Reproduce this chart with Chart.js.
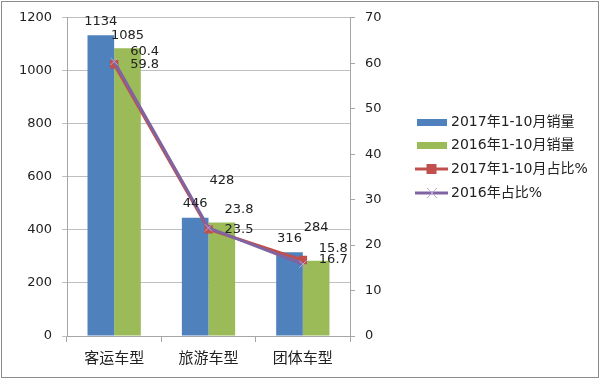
<!DOCTYPE html>
<html><head><meta charset="utf-8">
<script src="https://cdn.jsdelivr.net/npm/chart.js@4"></script>
<style>html,body{margin:0;padding:0;background:#fff}#wrap{width:600px;height:381px}</style>
</head><body><div id="wrap"><canvas id="c" width="600" height="381"></canvas></div>
<script>
const categories = ["客运车型", "旅游车型", "团体车型"];
const sales2017 = [1134, 446, 316];
const sales2016 = [1085, 428, 284];
const share2017 = [59.8, 23.5, 16.7];
const share2016 = [60.4, 23.8, 15.8];
const seriesNames = ["2017年1-10月销量", "2016年1-10月销量", "2017年1-10月占比%", "2016年占比%"];
const leftTicks = [0, 200, 400, 600, 800, 1000, 1200];
const rightTicks = [0, 10, 20, 30, 40, 50, 60, 70];

const FONT = "'DejaVu Sans', 'Noto Sans CJK SC', sans-serif";
const colors = ["#4F81BD", "#9BBB59", "#C0504D", "#8064A2"];

// label offsets (pixel nudges from each mark)
const barLabelDy = [[-14, -13], [-14, -42], [-13.5, -33]];
const lineLabelDy = { 2: [0, 0, 0], 3: [-10, -18, -16] };

const decor = {
  id: 'decor',
  afterDatasetsDraw(chart) {
    const ctx = chart.ctx;
    ctx.save();
    ctx.fillStyle = '#222';
    ctx.font = '13px ' + FONT;
    [0, 1].forEach(di => {
      const meta = chart.getDatasetMeta(di);
      meta.data.forEach((el, i) => {
        ctx.textAlign = 'center';
        ctx.textBaseline = 'middle';
        const v = chart.data.datasets[di].data[i];
        ctx.fillText(String(v), el.x, el.y + barLabelDy[i][di]);
      });
    });
    [2, 3].forEach(di => {
      const meta = chart.getDatasetMeta(di);
      meta.data.forEach((el, i) => {
        ctx.textAlign = 'left';
        ctx.textBaseline = 'middle';
        const v = chart.data.datasets[di].data[i];
        ctx.fillText(v.toFixed(1), el.x + 16, el.y + lineLabelDy[di][i]);
      });
    });
    ctx.restore();
  },
  afterDraw(chart) {
    const ctx = chart.ctx;
    ctx.save();
    const lx = 415, tx = 451;
    const rows = [122, 145, 169, 193];
    ctx.font = '14px ' + FONT;
    ctx.textBaseline = 'middle';
    ctx.textAlign = 'left';
    rows.forEach((y, i) => {
      if (i < 2) {
        ctx.fillStyle = colors[i];
        ctx.fillRect(lx + 2, y - 3, 30, 7);
      } else {
        ctx.strokeStyle = colors[i];
        ctx.lineWidth = 3;
        ctx.beginPath(); ctx.moveTo(lx, y); ctx.lineTo(lx + 33, y); ctx.stroke();
        if (i === 2) {
          ctx.fillStyle = colors[2];
          ctx.fillRect(lx + 11.5, y - 5, 10, 10);
        } else {
          ctx.lineWidth = 1;
          ctx.strokeStyle = '#b9a8d6';
          ctx.beginPath();
          ctx.moveTo(lx + 12, y - 5); ctx.lineTo(lx + 22, y + 5);
          ctx.moveTo(lx + 22, y - 5); ctx.lineTo(lx + 12, y + 5);
          ctx.stroke();
        }
      }
      ctx.fillStyle = '#222';
      ctx.fillText(seriesNames[i], tx, y);
    });
    ctx.strokeStyle = '#8c8c8c';
    ctx.lineWidth = 1;
    ctx.strokeRect(1.5, 1.5, 597, 376);
    ctx.restore();
  }
};

new Chart(document.getElementById('c'), {
  type: 'bar',
  data: {
    labels: categories,
    datasets: [
      { label: seriesNames[0], data: sales2017, backgroundColor: colors[0], yAxisID: 'y', order: 3, barPercentage: 1, categoryPercentage: 0.565 },
      { label: seriesNames[1], data: sales2016, backgroundColor: colors[1], yAxisID: 'y', order: 4, barPercentage: 1, categoryPercentage: 0.565 },
      { type: 'line', label: seriesNames[2], data: share2017, borderColor: colors[2], backgroundColor: colors[2], borderWidth: 3, pointStyle: 'rect', pointRadius: 6, pointBorderWidth: 0, yAxisID: 'y1', order: 2, tension: 0 },
      { type: 'line', label: seriesNames[3], data: share2016, borderColor: colors[3], backgroundColor: '#b9a8d6', borderWidth: 3, pointStyle: 'crossRot', pointRadius: 5, pointBorderColor: '#b9a8d6', pointBorderWidth: 1, yAxisID: 'y1', order: 1, tension: 0 }
    ]
  },
  options: {
    responsive: false,
    animation: false,
    layout: { padding: { top: 15, left: 0, right: 0, bottom: 0 } },
    plugins: { legend: { display: false }, tooltip: { enabled: false } },
    scales: {
      x: {
        grid: { offset: true, drawOnChartArea: false, tickLength: 6, color: '#a6a6a6' },
        border: { color: '#a6a6a6' },
        ticks: { font: { size: 15, family: "'Noto Sans CJK SC', sans-serif" }, color: '#222', padding: 6 },
        afterFit(s) { s.height = 45; }
      },
      y: {
        position: 'left', min: 0, max: 1200,
        afterBuildTicks(s) { s.ticks = leftTicks.map(v => ({ value: v })); },
        grid: { color: '#bfbfbf', tickLength: 5 },
        border: { color: '#a6a6a6' },
        ticks: { font: { size: 13, family: FONT }, color: '#222', padding: 10, callback: v => String(v) },
        afterFit(s) { s.width = 67; }
      },
      y1: {
        position: 'right', min: 0, max: 70,
        afterBuildTicks(s) { s.ticks = rightTicks.map(v => ({ value: v })); },
        grid: { drawOnChartArea: false, color: '#a6a6a6', tickLength: 5 },
        border: { color: '#a6a6a6' },
        ticks: { font: { size: 13, family: FONT }, color: '#222', padding: 10, callback: v => String(v) },
        afterFit(s) { s.width = 250; }
      }
    }
  },
  plugins: [decor]
});
</script></body></html>
